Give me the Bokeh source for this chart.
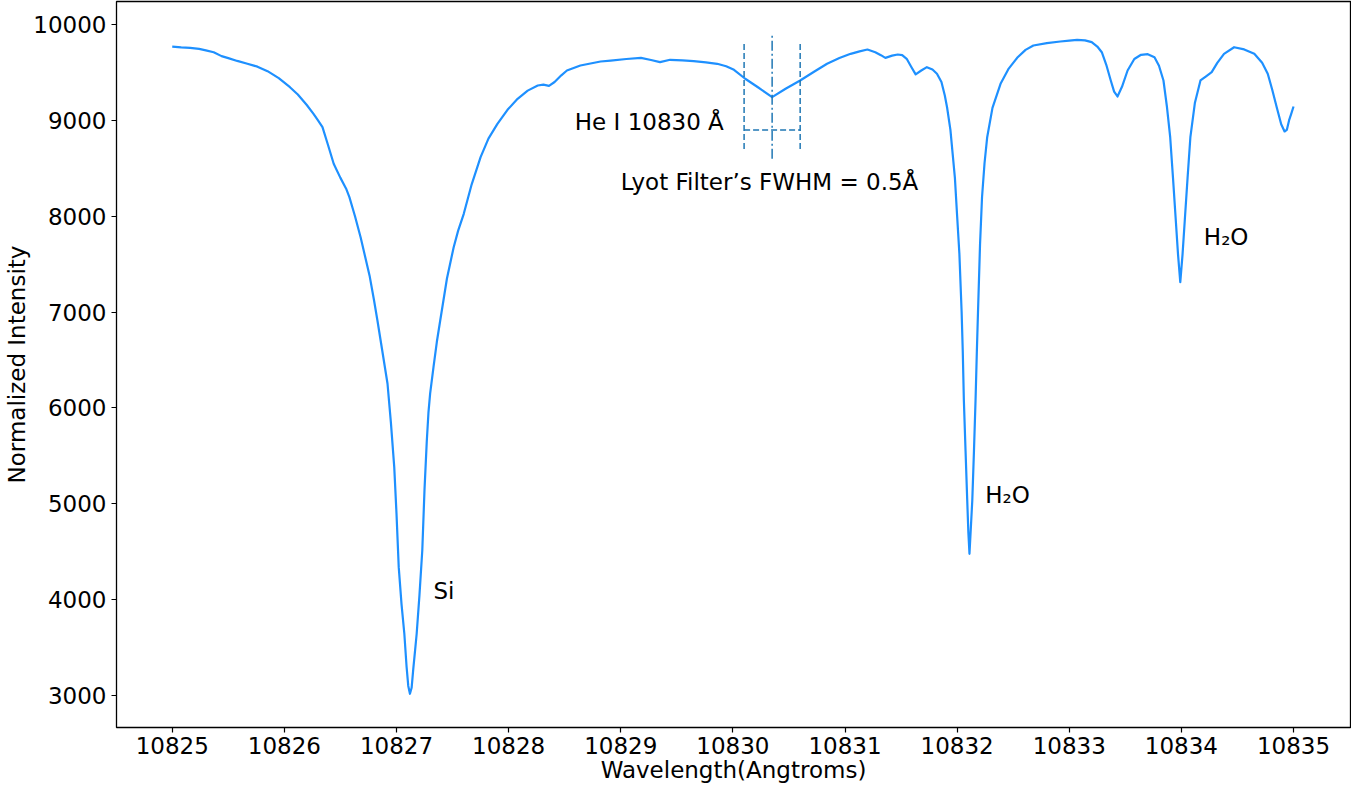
from bokeh.plotting import figure
from bokeh.models import FixedTicker, Range1d, BasicTickFormatter
from bokeh.core.properties import value
from bokeh.embed import file_html
from bokeh.resources import INLINE

# Spectrum (wavelength in Angstrom, normalized intensity)
wavelength = [
    10825.00, 10825.08, 10825.16, 10825.24, 10825.30, 10825.37, 10825.44, 10825.50,
    10825.58, 10825.67, 10825.76, 10825.85, 10825.95, 10826.05, 10826.12, 10826.20,
    10826.26, 10826.30, 10826.34, 10826.39, 10826.44, 10826.50, 10826.55, 10826.58,
    10826.63, 10826.68, 10826.72, 10826.76, 10826.80, 10826.83, 10826.87, 10826.92,
    10826.95, 10826.98, 10827.00, 10827.02, 10827.045, 10827.07, 10827.09, 10827.105,
    10827.12, 10827.135, 10827.15, 10827.165, 10827.18, 10827.205, 10827.23, 10827.25,
    10827.27, 10827.285, 10827.30, 10827.33, 10827.36, 10827.39, 10827.45, 10827.51,
    10827.55, 10827.60, 10827.67, 10827.75, 10827.82, 10827.90, 10827.99, 10828.08,
    10828.17, 10828.26, 10828.31, 10828.36, 10828.41, 10828.47, 10828.52, 10828.64,
    10828.82, 10828.91, 10829.05, 10829.18, 10829.27, 10829.35, 10829.44, 10829.55,
    10829.65, 10829.76, 10829.86, 10829.94, 10830.01, 10830.11, 10830.23, 10830.35,
    10830.47, 10830.60, 10830.72, 10830.84, 10830.95, 10831.05, 10831.13, 10831.20,
    10831.27, 10831.32, 10831.36, 10831.42, 10831.47, 10831.51, 10831.55, 10831.59,
    10831.63, 10831.68, 10831.73, 10831.78, 10831.82, 10831.86, 10831.89, 10831.91,
    10831.94, 10831.96, 10831.98, 10832.00, 10832.02, 10832.04, 10832.05, 10832.06,
    10832.075, 10832.09, 10832.10, 10832.11, 10832.12, 10832.135, 10832.15, 10832.164,
    10832.176, 10832.186, 10832.204, 10832.222, 10832.244, 10832.268, 10832.315, 10832.387,
    10832.46, 10832.54, 10832.61, 10832.68, 10832.80, 10832.92, 10833.00, 10833.07,
    10833.14, 10833.20, 10833.25, 10833.29, 10833.33, 10833.37, 10833.40, 10833.43,
    10833.47, 10833.52, 10833.58, 10833.64, 10833.70, 10833.76, 10833.80, 10833.84,
    10833.87, 10833.90, 10833.925, 10833.95, 10833.97, 10833.99, 10834.01, 10834.03,
    10834.055, 10834.08, 10834.12, 10834.17, 10834.22, 10834.27, 10834.32, 10834.38,
    10834.47, 10834.56, 10834.65, 10834.72, 10834.77, 10834.81, 10834.85, 10834.89,
    10834.92, 10834.94, 10834.96, 10834.98, 10835.00,
]
intensity = [
    9770, 9762, 9757, 9745, 9730, 9711, 9670, 9649,
    9620, 9590, 9560, 9513, 9440, 9346, 9270, 9160,
    9068, 9000, 8929, 8740, 8547, 8400, 8290, 8199,
    8000, 7781, 7580, 7380, 7120, 6912, 6620, 6252,
    5850, 5382, 4900, 4339, 3950, 3644, 3300, 3100,
    3018, 3080, 3280, 3460, 3644, 4050, 4513, 5150,
    5650, 5950, 6150, 6425, 6690, 6912, 7350, 7677,
    7850, 8025, 8330, 8616, 8810, 8964, 9110, 9225,
    9310, 9364, 9372, 9360, 9400, 9470, 9520, 9572,
    9614, 9624, 9640, 9652, 9630, 9607, 9632, 9625,
    9617, 9605, 9590, 9565, 9527, 9434, 9340, 9242,
    9330, 9416, 9505, 9590, 9650, 9694, 9720, 9739,
    9711, 9680, 9652, 9675, 9687, 9680, 9642, 9560,
    9480, 9520, 9555, 9530, 9486, 9400, 9260, 9137,
    8900, 8650, 8400, 8000, 7608, 7000, 6600, 6078,
    5550, 5034, 4700, 4478, 4700, 5034, 5550, 6078,
    6600, 7000, 7700, 8200, 8550, 8824, 9130, 9381,
    9540, 9659, 9735, 9781, 9805, 9823, 9832, 9840,
    9835, 9816, 9770, 9711, 9580, 9416, 9300, 9249,
    9350, 9520, 9640, 9684, 9690, 9659, 9570, 9416,
    9150, 8824, 8400, 7955, 7600, 7312, 7600, 7955,
    8400, 8824, 9180, 9416, 9460, 9503, 9600, 9694,
    9763, 9740, 9694, 9600, 9486, 9320, 9137, 8960,
    8884, 8900, 8999, 9070, 9145,
]

# He I 10830 line marker and Lyot filter band
he_center = 10830.35
he_center_y = [8600, 9900]
filter_edges = [10830.10, 10830.60]
filter_edge_y = [8700, 9800]
fwhm_bar_y = 8900

# Annotations
label_texts = ["He I 10830 Å", "Lyot Filter’s FWHM = 0.5Å", "Si", "H₂O", "H₂O"]
label_x = [10828.59, 10829.00, 10827.33, 10832.25, 10834.20]
label_y = [8988, 8362, 4085, 5087, 7778]

x_ticks = list(range(10825, 10836))
y_ticks = list(range(3000, 10001, 1000))

FONT = "DejaVu Sans"

p = figure(width=1351, height=790, output_backend="svg", toolbar_location=None,
           x_range=Range1d(10824.503, 10835.508), y_range=Range1d(2666, 10240),
           min_border_left=116, min_border_right=1, min_border_top=1, min_border_bottom=63)

p.background_fill_color = "white"
p.border_fill_color = "white"
p.outline_line_color = "black"
p.outline_line_width = 1.3
p.xgrid.visible = False
p.ygrid.visible = False

p.line(wavelength, intensity, line_color="#1E90FF", line_width=2.2, line_join="round")

# Filter band lines
for xe in filter_edges:
    p.line([xe, xe], filter_edge_y, line_color="#1f77b4", line_width=1.5, line_dash="6 3")
p.line([he_center, he_center], he_center_y, line_color="#1f77b4", line_width=1.5,
       line_dash="10 3 2 3")
p.line(filter_edges, [fwhm_bar_y, fwhm_bar_y], line_color="#1f77b4", line_width=1.5,
       line_dash="6 3")

p.text(x=label_x, y=label_y, text=label_texts, text_font=value(FONT),
       text_font_size="23px", text_baseline="middle", text_align="left", text_color="black")

for ax in (p.xaxis[0], p.yaxis[0]):
    ax.axis_line_color = None
    ax.major_tick_line_color = "black"
    ax.major_tick_line_width = 1.2
    ax.major_tick_out = 5
    ax.major_tick_in = 0
    ax.minor_tick_line_color = None
    ax.major_label_text_font = FONT
    ax.major_label_text_font_size = "23px"
    ax.major_label_text_color = "black"
    ax.axis_label_text_font = FONT
    ax.axis_label_text_font_size = "23px"
    ax.axis_label_text_font_style = "normal"
    ax.axis_label_text_color = "black"
    ax.formatter = BasicTickFormatter(use_scientific=False)

p.xaxis.ticker = FixedTicker(ticks=x_ticks)
p.yaxis.ticker = FixedTicker(ticks=y_ticks)
p.xaxis.axis_label = "Wavelength(Angtroms)"
p.yaxis.axis_label = "Normalized Intensity"
p.xaxis.major_label_standoff = 4
p.xaxis.axis_label_standoff = 0
p.yaxis.major_label_standoff = 5
p.yaxis.axis_label_standoff = 0

open("out.html", "w").write(file_html(p, INLINE))
